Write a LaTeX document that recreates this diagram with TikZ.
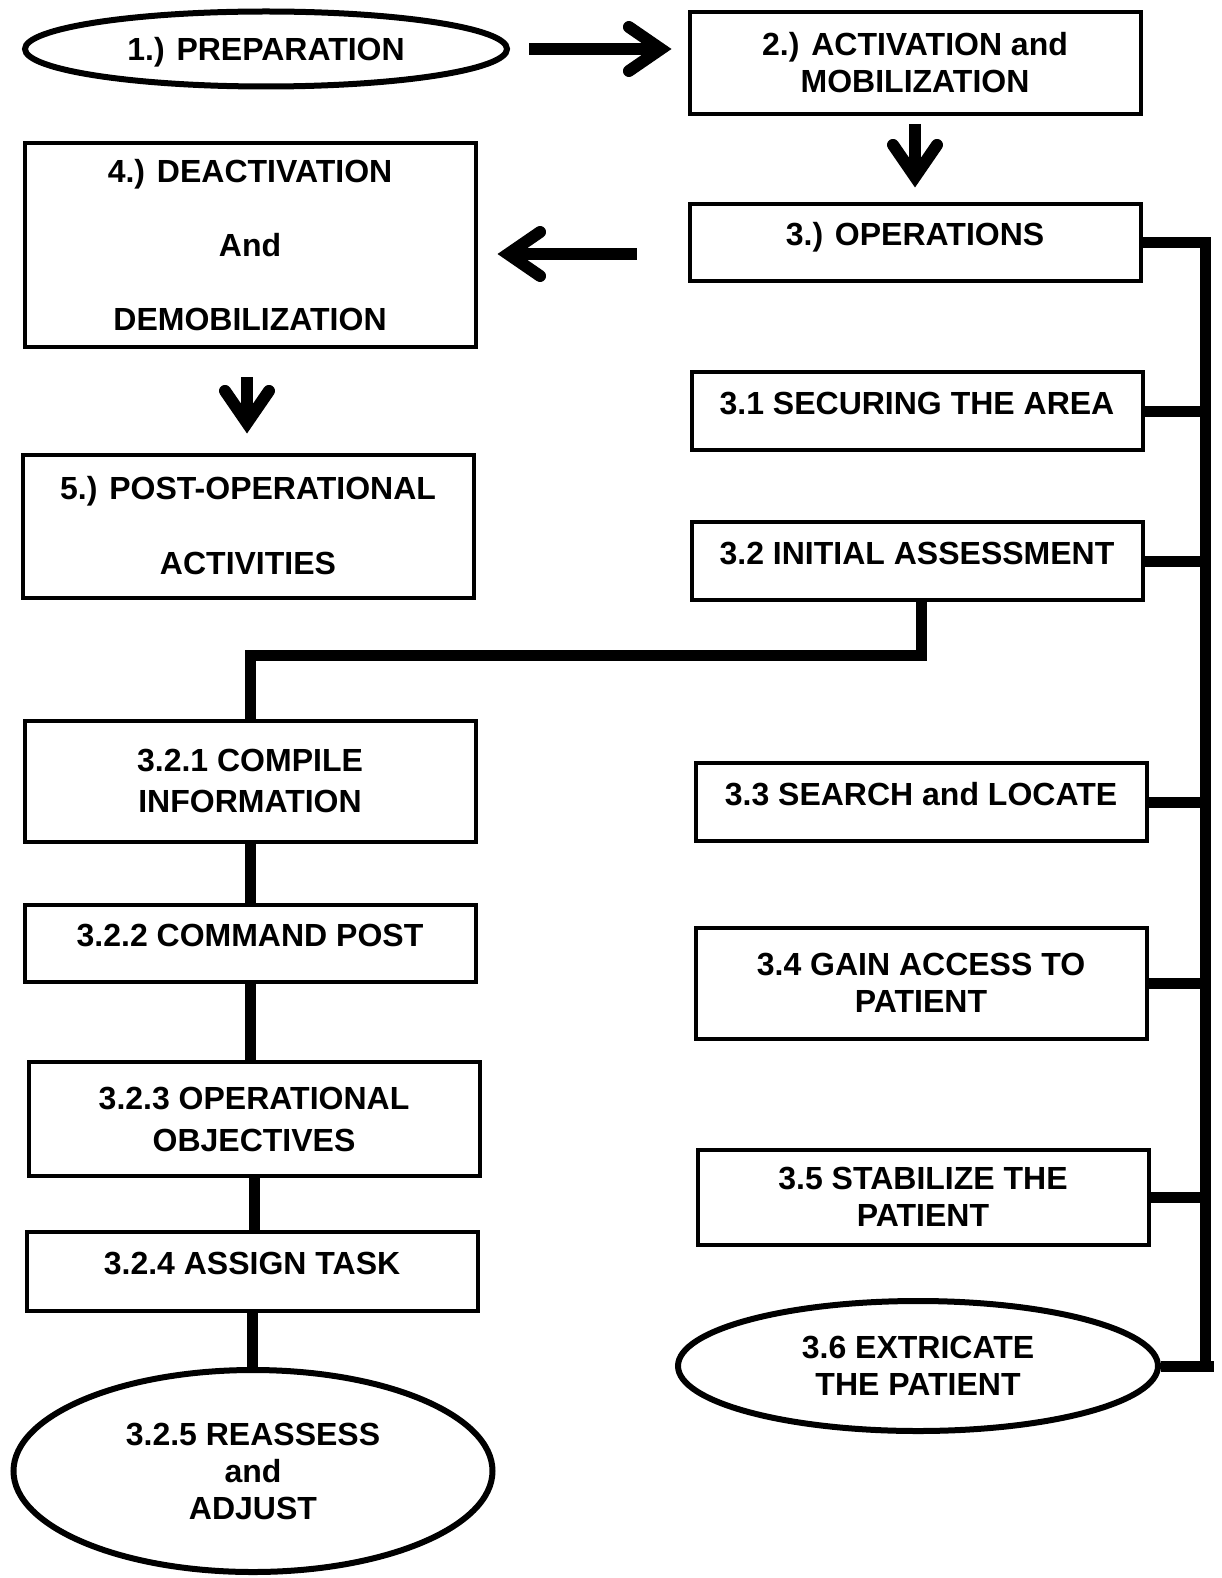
\documentclass[tikz,border=0pt]{standalone}
\usepackage{fontspec}
\setmainfont{Liberation Sans}
\usetikzlibrary{arrows.meta, shapes.geometric}

\tikzset{
    box/.style={draw, line width=4pt, minimum width=451pt, inner sep=0pt, align=center,
        font=\bfseries\fontsize{32}{37}\selectfont},
    onebox/.style={box, text height=23pt, text depth=17pt},
    oval/.style={ellipse, draw, line width=6pt, inner sep=0pt, align=center,
        font=\bfseries\fontsize{32}{37}\selectfont},
    link/.style={line width=11pt},
    flow/.style={line width=12pt,
        -{Straight Barb[length=32pt, width=44pt, line cap=round, line join=miter]}},
}

\begin{document}
\begin{tikzpicture}[x=1pt, y=-1pt]
    \useasboundingbox (0,0) rectangle (1221,1578);

    % main phases
    \node[oval, minimum width=482pt, minimum height=75pt, text height=23pt, text depth=0pt] (prep) at (266,49) {1.) PREPARATION};
    \node[box, minimum height=102pt] (act) at (915,63) {2.) ACTIVATION and\\MOBILIZATION};
    \node[onebox, minimum height=77pt] (ops) at (915,243) {3.) OPERATIONS};
    \node[box, minimum height=204pt] (deact) at (250,245) {4.) DEACTIVATION\\[37pt]And\\[37pt]DEMOBILIZATION};
    \node[box, minimum height=143pt] (post) at (248,526) {5.) POST-OPERATIONAL\\[38pt]ACTIVITIES};

    % operations, right column
    \node[onebox, minimum height=78pt] (s31) at (917,411) {3.1 SECURING THE AREA};
    \node[onebox, minimum height=78pt] (s32) at (917,561) {3.2 INITIAL ASSESSMENT};
    \node[onebox, minimum height=78pt] (s33) at (921,802) {3.3 SEARCH and LOCATE};
    \node[box, minimum height=111pt] (s34) at (921,983) {3.4 GAIN ACCESS TO\\PATIENT};
    \node[box, minimum height=95pt] (s35) at (923,1197) {3.5 STABILIZE THE\\PATIENT};
    \node[oval, minimum width=480pt, minimum height=130pt] (s36) at (918,1366) {3.6 EXTRICATE\\THE PATIENT};

    % initial assessment, left column
    \node[box, minimum height=121pt] (s321) at (250,781) {3.2.1 COMPILE\\[4pt]INFORMATION};
    \node[onebox, minimum height=77pt] (s322) at (250,943) {3.2.2 COMMAND POST};
    \node[box, minimum height=114pt] (s323) at (254,1119) {3.2.3 OPERATIONAL\\[5pt]OBJECTIVES};
    \node[onebox, minimum height=79pt] (s324) at (252,1271) {3.2.4 ASSIGN TASK};
    \node[oval, minimum width=479pt, minimum height=202pt] (s325) at (253,1471) {3.2.5 REASSESS\\and\\ADJUST};

    \coordinate (bus) at (1205,243);
    \coordinate (busend) at (1214,1366);
    \coordinate (turn) at (921,655);

    % arrows between phases
    \draw[flow, shorten <=19pt, shorten >=16pt] (prep.east) -- (act.west |- prep.east);
    \draw[flow, shorten <=8pt, shorten >=15pt] (act.south -| ops.north) -- (ops.north);
    \draw[flow, shorten <=51pt, shorten >=20pt] ([yshift=-11pt]ops.west) -- ([yshift=-11pt]ops.west -| deact.east);
    \draw[flow, shorten <=28pt, shorten >=19pt] ([xshift=-3pt]deact.south) -- ([xshift=-3pt]deact.south |- post.north);

    % bus on the right
    \draw[link] (ops.east) -- (ops.east -| bus) -- (bus |- s36.east);
    \draw[link] (s36.east) -- (s36.east -| busend);
    \foreach \n in {s31,s32,s33,s34,s35}
        \draw[link] (\n.east) -- (\n.east -| bus);

    % left chain
    \draw[link] (s32.south -| turn) -- (turn) -- (turn -| s321.north) -- (s321.north);
    \draw[link] (s321.south) -- (s321.south |- s322.north);
    \draw[link] (s322.south) -- (s322.south |- s323.north);
    \draw[link] (s323.south) -- (s323.south |- s324.north);
    \draw[link] (s324.south) -- (s324.south |- s325.north);
\end{tikzpicture}
\end{document}
